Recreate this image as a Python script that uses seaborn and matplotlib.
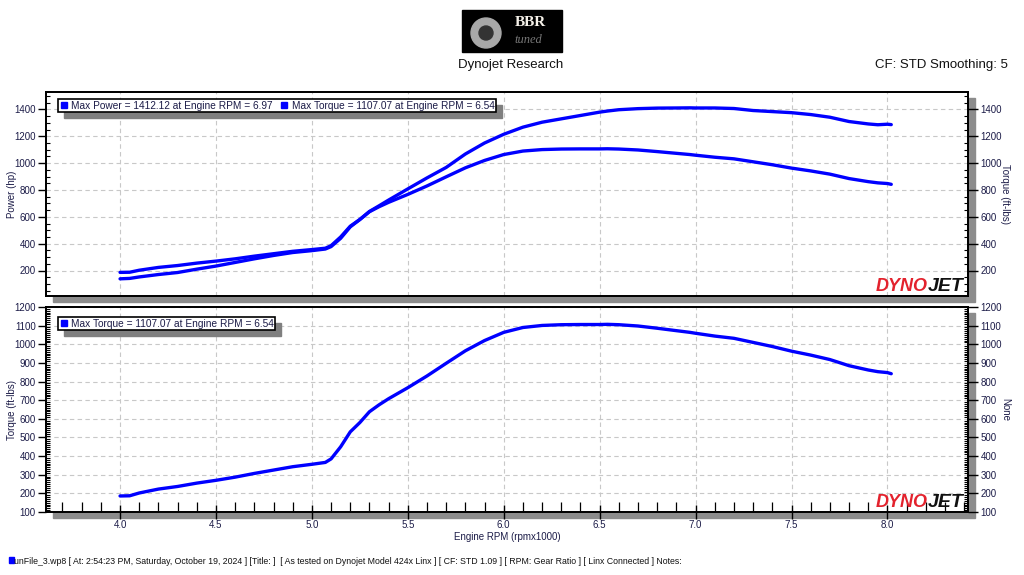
import seaborn as sns
import matplotlib.pyplot as plt
import numpy as np
import pandas as pd
from matplotlib.patches import Rectangle, Ellipse
from matplotlib.lines import Line2D
from matplotlib.ticker import MultipleLocator

# Data (rpm in thousands)
rpm = [4.00, 4.05, 4.10, 4.20, 4.30, 4.40, 4.50, 4.60, 4.70, 4.80, 4.90, 5.00, 5.07,
       5.10, 5.15, 5.20, 5.25, 5.30, 5.35, 5.40, 5.50, 5.60, 5.70, 5.80, 5.90, 6.00,
       6.10, 6.20, 6.30, 6.40, 6.50, 6.54, 6.60, 6.70, 6.80, 6.90, 6.97, 7.00, 7.10,
       7.20, 7.30, 7.40, 7.50, 7.60, 7.70, 7.80, 7.90, 7.95, 8.00, 8.02]
torque = [186, 187, 202, 223, 237, 255, 270, 287, 307, 325, 343, 356, 366,
          385, 450, 530, 580, 638, 675, 708, 767, 830, 898, 965, 1020, 1064,
          1090, 1101, 1105, 1106, 1106, 1107, 1105, 1098, 1086, 1073, 1064, 1059, 1044,
          1032, 1010, 988, 963, 942, 918, 885, 862, 853, 848, 842]
power = [138, 141, 152, 170, 185, 210, 233, 260, 287, 312, 334, 348, 360,
         378, 440, 525, 580, 640, 682, 725, 808, 890, 968, 1068, 1150, 1215,
         1268, 1305, 1330, 1355, 1380, 1388, 1398, 1406, 1410, 1411, 1412, 1411, 1411,
         1407, 1392, 1384, 1376, 1362, 1342, 1310, 1292, 1286, 1290, 1287]

power_label = 'Max Power = 1412.12 at Engine RPM = 6.97'
torque_label = 'Max Torque = 1107.07 at Engine RPM = 6.54'
footer = ('unFile_3.wp8 [ At: 2:54:23 PM, Saturday, October 19, 2024 ] [Title: ]  '
          '[ As tested on Dynojet Model 424x Linx ] [ CF: STD 1.09 ] [ RPM: Gear Ratio ] '
          '[ Linx Connected ] Notes:')

df = pd.DataFrame({'rpm': rpm, 'power': power, 'torque': torque})

sns.set_style('ticks')
plt.rcParams['font.family'] = ['Liberation Sans', 'DejaVu Sans']

W, H = 1024, 575
BLUE = '#0000ff'
NAVY = '#1c1c48'
fig = plt.figure(figsize=(W / 100, H / 100), dpi=100)


def fx(px):
    return px / W


def fy(py):
    return 1 - py / H


def make_panel(top, bottom, ylim, major, minor, left_label, right_label):
    # grey drop shadow behind the plot frame
    fig.add_artist(Rectangle((fx(53), fy(bottom + 6)), fx(922), (bottom - top) / H,
                             transform=fig.transFigure, color='#8c8c8c', zorder=-5))
    ax = fig.add_axes([fx(46), fy(bottom), fx(922), (bottom - top) / H])
    ax.set_facecolor('white')
    ax.set_xlim(3.614, 8.42)
    ax.set_ylim(*ylim)
    ax.xaxis.set_major_locator(MultipleLocator(0.5))
    ax.yaxis.set_major_locator(MultipleLocator(major))
    ax.yaxis.set_minor_locator(MultipleLocator(minor))
    ax.grid(True, which='major', ls=(0, (4, 3)), color='#c8c8c8', lw=0.8)
    for s in ax.spines.values():
        s.set_color('black')
        s.set_linewidth(1.3)
    ax.tick_params(axis='y', which='major', direction='out', length=6, width=1,
                   labelsize=7, labelcolor=NAVY, pad=1.5, color='black')
    ax.tick_params(axis='y', which='minor', direction='in', length=3, width=0.8,
                   color='black', left=True)
    ax.set_ylabel(left_label, fontsize=7, color=NAVY)
    ax.yaxis.set_label_coords(-0.031, 0.5)

    ax2 = ax.twinx()
    ax2.set_ylim(*ylim)
    ax2.yaxis.set_major_locator(MultipleLocator(major))
    ax2.yaxis.set_minor_locator(MultipleLocator(minor))
    ax2.tick_params(axis='y', which='major', direction='out', length=7, width=1,
                    labelsize=7, labelcolor=NAVY, pad=2, color='black', right=True)
    ax2.tick_params(axis='y', which='minor', direction='in', length=3, width=0.8,
                    color='black', right=True)
    ax2.set_ylabel(right_label, fontsize=7, color=NAVY, rotation=270)
    ax2.yaxis.set_label_coords(1.046, 0.5)
    for s in ax2.spines.values():
        s.set_color('black')
        s.set_linewidth(1.3)

    # DYNOJET mark in the lower right corner
    ax.text(0.956, 0.004, 'DYNO', transform=ax.transAxes, ha='right', va='bottom',
            fontsize=13, fontweight='bold', fontstyle='italic', color='#e3222d', zorder=6)
    ax.text(0.956, 0.004, 'JET', transform=ax.transAxes, ha='left', va='bottom',
            fontsize=14, fontweight='bold', fontstyle='italic', color='#111111', zorder=6)
    return ax, ax2


def legend_box(ax, labels, x_px, y_px):
    handles = [Line2D([], [], marker='s', ls='', color=BLUE, ms=5) for _ in labels]
    leg = ax.legend(handles, labels, ncol=len(labels), loc='upper left',
                    bbox_to_anchor=(fx(x_px), fy(y_px)), bbox_transform=fig.transFigure,
                    fontsize=7.3, fancybox=False, framealpha=1, edgecolor='black',
                    borderpad=0.15, borderaxespad=0, handlelength=0.8, handletextpad=0.3,
                    columnspacing=0.8, labelcolor=NAVY)
    leg.get_frame().set_linewidth(1.2)
    leg.set_zorder(10)
    return leg


# ---- top panel: power and torque
ax1, ax1r = make_panel(92, 296, (10, 1530), 200, 50, 'Power (hp)', 'Torque (ft-lbs)')
sns.lineplot(data=df, x='rpm', y='power', ax=ax1, color=BLUE, lw=2.4, legend=False)
sns.lineplot(data=df, x='rpm', y='torque', ax=ax1, color=BLUE, lw=2.4, legend=False)
ax1.tick_params(axis='x', which='both', length=0, labelbottom=False, bottom=False)
ax1.set_xlabel('')
leg1 = legend_box(ax1, [power_label, torque_label], 58, 99)

# ---- bottom panel: torque only
ax2, ax2r = make_panel(307, 512, (100, 1200), 100, 10, 'Torque (ft-lbs)', 'None')
sns.lineplot(data=df, x='rpm', y='torque', ax=ax2, color=BLUE, lw=2.4, legend=False)
ax2.xaxis.set_minor_locator(MultipleLocator(0.1))
ax2.tick_params(axis='x', which='major', direction='inout', length=10, width=1,
                labelsize=7, labelcolor=NAVY, pad=1, color='black', bottom=True)
ax2.tick_params(axis='x', which='minor', direction='in', length=7, width=0.9,
                color='black', bottom=True)
ax2.set_xlabel('Engine RPM (rpmx1000)', fontsize=7, color=NAVY, labelpad=1)
leg2 = legend_box(ax2, [torque_label], 58, 317)

# legend drop shadows
fig.canvas.draw()
for ax, leg in [(ax1, leg1), (ax2, leg2)]:
    bb = leg.get_window_extent()
    ax.add_artist(Rectangle(((bb.x0 + 6) / W, (bb.y0 - 6) / H), bb.width / W, bb.height / H,
                            transform=fig.transFigure, color='#7f7f7f', zorder=9,
                            clip_on=False))

# ---- header: logo and titles
fig.add_artist(Rectangle((fx(462), fy(52)), fx(100), 42 / H, transform=fig.transFigure,
                         color='black', zorder=1))
fig.add_artist(Ellipse((fx(486), fy(33)), 30 / W, 30 / H, transform=fig.transFigure,
                       color='#a8a8a8', zorder=2))
fig.add_artist(Ellipse((fx(486), fy(33)), 14 / W, 14 / H, transform=fig.transFigure,
                       color='#333333', zorder=3))
fig.text(fx(530), fy(22), 'BBR', ha='center', va='center', fontsize=11, fontweight='bold',
         family='Liberation Serif', color='#f4f0e8', zorder=4)
fig.text(fx(528), fy(40), 'tuned', ha='center', va='center', fontsize=9,
         fontstyle='italic', family='Liberation Serif', color='#777777', zorder=4)
fig.text(fx(511), fy(65), 'Dynojet Research', ha='center', va='center', fontsize=9.5,
         color='#111111')
fig.text(fx(1008), fy(65), 'CF: STD Smoothing: 5', ha='right', va='center', fontsize=9.5,
         color='#111111')

# ---- footer
fig.add_artist(Rectangle((fx(9), fy(563)), 5 / W, 6 / H, transform=fig.transFigure,
                         color=BLUE))
fig.text(fx(14), fy(561), footer, ha='left', va='center', fontsize=6.3, color='#111111')

fig.savefig('out.png', dpi=100)
